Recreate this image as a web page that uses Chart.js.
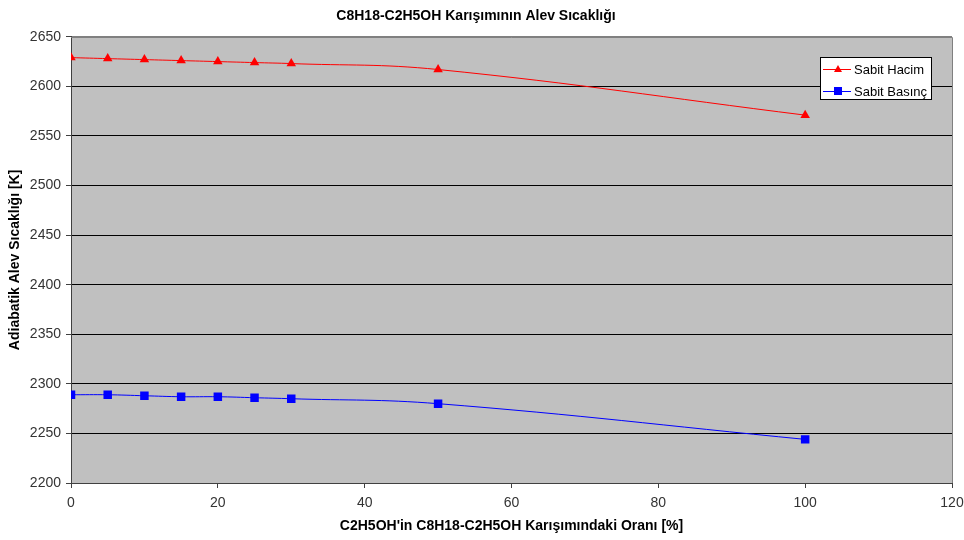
<!DOCTYPE html>
<html lang="tr">

<head>
    <meta charset="UTF-8">
    <title>C8H18-C2H5OH Karışımının Alev Sıcaklığı</title>
    <script src="https://cdn.jsdelivr.net/npm/chart.js"></script>
    <style>
        html, body { margin: 0; padding: 0; background: #ffffff; overflow: hidden; }
    </style>
</head>

<body>
    <canvas id="myChart" width="964" height="540"></canvas>
    <script>
        // Veriler (C2H5OH oranı %, sıcaklık K)
        const oran = [0, 5, 10, 15, 20, 25, 30, 50, 100];
        const sabitHacim = [2629, 2628, 2627, 2626, 2625, 2624, 2623, 2617, 2571];
        const sabitBasinc = [2289, 2289, 2288, 2287, 2287, 2286, 2285, 2280, 2244];
        const yTicks = [2200, 2250, 2300, 2350, 2400, 2450, 2500, 2550, 2600, 2650];

        const FONT = 'Liberation Sans, Arial, sans-serif';

        // gri arka plan + çerçeve
        const plotBg = {
            id: 'plotBg',
            beforeDraw(chart) {
                const { ctx, chartArea: a } = chart;
                ctx.save();
                ctx.fillStyle = '#c0c0c0';
                ctx.fillRect(a.left, a.top, a.right - a.left, a.bottom - a.top);
                ctx.restore();
            },
            afterDatasetsDraw(chart) {
                const { ctx, chartArea: a } = chart;
                ctx.save();
                ctx.strokeStyle = '#808080';
                ctx.lineWidth = 1;
                ctx.beginPath();
                ctx.moveTo(Math.round(a.left), Math.round(a.top) + 0.5);
                ctx.lineTo(Math.round(a.right) + 0.5, Math.round(a.top) + 0.5);
                ctx.lineTo(Math.round(a.right) + 0.5, Math.round(a.bottom));
                ctx.stroke();
                ctx.restore();
            }
        };

        // lejant, grafiğin sağ üst köşesinde
        const boxLegend = {
            id: 'boxLegend',
            afterDraw(chart) {
                const { ctx } = chart;
                const x = 820, y = 57, w = 111, h = 42;
                ctx.save();
                ctx.fillStyle = '#ffffff';
                ctx.fillRect(x, y, w, h);
                ctx.strokeStyle = '#000000';
                ctx.lineWidth = 1;
                ctx.strokeRect(x + 0.5, y + 0.5, w, h);
                ctx.font = '13px ' + FONT;
                ctx.textBaseline = 'middle';
                chart.data.datasets.forEach((ds, i) => {
                    const cy = y + 12 + i * 22;
                    ctx.strokeStyle = ds.borderColor;
                    ctx.beginPath();
                    ctx.moveTo(x + 3, cy + 0.5);
                    ctx.lineTo(x + 31, cy + 0.5);
                    ctx.stroke();
                    ctx.fillStyle = ds.backgroundColor;
                    ctx.beginPath();
                    if (ds.pointStyle === 'triangle') {
                        ctx.moveTo(x + 18, cy - 4);
                        ctx.lineTo(x + 22, cy + 3);
                        ctx.lineTo(x + 14, cy + 3);
                        ctx.closePath();
                    } else {
                        ctx.rect(x + 14, cy - 4, 8, 8);
                    }
                    ctx.fill();
                    ctx.fillStyle = '#000000';
                    ctx.fillText(ds.label, x + 34, cy + 1);
                });
                ctx.restore();
            }
        };

        const toPts = arr => arr.map((v, i) => ({ x: oran[i], y: v }));

        const ctx = document.getElementById('myChart').getContext('2d');
        const myChart = new Chart(ctx, {
            type: 'line',
            data: {
                datasets: [{
                    label: 'Sabit Hacim',
                    data: toPts(sabitHacim),
                    borderColor: '#ff0000',
                    backgroundColor: '#ff0000',
                    borderWidth: 1,
                    pointStyle: 'triangle',
                    pointRadius: 5.5,
                    pointBorderWidth: 0,
                    tension: 0.4
                }, {
                    label: 'Sabit Basınç',
                    data: toPts(sabitBasinc),
                    borderColor: '#0000ff',
                    backgroundColor: '#0000ff',
                    borderWidth: 1,
                    pointStyle: 'rect',
                    pointRadius: 6,
                    pointBorderWidth: 0,
                    tension: 0.4
                }]
            },
            options: {
                responsive: false,
                animation: false,
                layout: { padding: { left: 0, right: 12, top: 0, bottom: 0 } },
                scales: {
                    x: {
                        type: 'linear',
                        min: 0,
                        max: 120,
                        afterFit: axis => { axis.height = 57; axis.paddingRight = 0; axis.paddingLeft = 0; },
                        ticks: {
                            stepSize: 20, color: '#333', padding: 7,
                            font: { size: 14, family: FONT },
                            callback: v => String(v)
                        },
                        grid: { drawOnChartArea: false, color: '#404040', tickLength: 5 },
                        border: { color: '#404040' },
                        title: {
                            display: true,
                            text: "C2H5OH'in C8H18-C2H5OH Karışımındaki Oranı [%]",
                            color: '#000',
                            font: { size: 14, weight: 'bold', family: FONT },
                            padding: { top: 0, bottom: 5 }
                        }
                    },
                    y: {
                        min: 2200,
                        max: 2650,
                        afterFit: axis => { axis.width = 71; },
                        afterBuildTicks: axis => { axis.ticks = yTicks.map(v => ({ value: v })); },
                        ticks: {
                            color: '#333', padding: 5,
                            font: { size: 14, family: FONT },
                            callback: v => String(v)
                        },
                        grid: {
                            color: c => (c.tick && c.tick.value === 2650) ? '#808080' : '#000000',
                            tickColor: '#404040',
                            tickLength: 5
                        },
                        border: { color: '#404040' },
                        title: {
                            display: true,
                            text: 'Adiabatik Alev Sıcaklığı [K]',
                            color: '#000',
                            font: { size: 14, weight: 'bold', family: FONT },
                            padding: { top: 7, bottom: 0 }
                        }
                    }
                },
                plugins: {
                    legend: { display: false },
                    tooltip: { enabled: false },
                    title: {
                        display: true,
                        text: 'C8H18-C2H5OH Karışımının Alev Sıcaklığı',
                        color: '#000',
                        font: { size: 14, weight: 'bold', family: FONT },
                        padding: { top: 8, bottom: 12 }
                    }
                }
            },
            plugins: [plotBg, boxLegend]
        });
    </script>
</body>

</html>
